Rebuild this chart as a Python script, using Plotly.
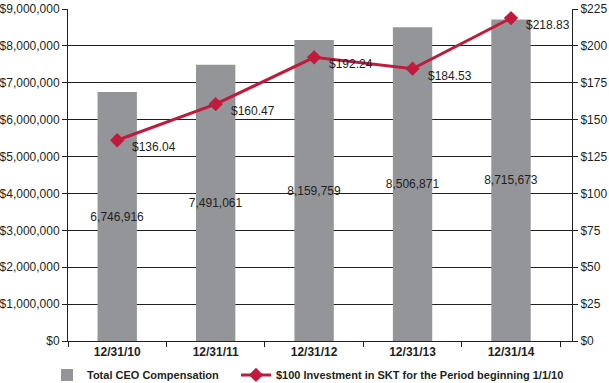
import plotly.graph_objects as go

categories = ["12/31/10", "12/31/11", "12/31/12", "12/31/13", "12/31/14"]
ceo_comp = [6746916, 7491061, 8159759, 8506871, 8715673]
skt_value = [136.04, 160.47, 192.24, 184.53, 218.83]
bar_name = "Total CEO Compensation"
line_name = "$100 Investment in SKT for the Period beginning 1/1/10"

FONT = "Liberation Sans, Arial, Helvetica, sans-serif"
GRAY = "#939598"
RED = "#c01a3c"
INK = "#231f20"

fig = go.Figure()
fig.add_trace(go.Bar(
    x=categories, y=ceo_comp, name=bar_name,
    marker=dict(color=GRAY, line=dict(width=0)),
    text=[f"{v:,}" for v in ceo_comp],
    textposition="inside", insidetextanchor="middle", textangle=0,
    textfont=dict(family=FONT, size=12, color=INK),
    constraintext="none", cliponaxis=False,
    hoverinfo="skip", legend="legend",
))
fig.add_trace(go.Scatter(
    x=categories, y=skt_value, name=line_name, yaxis="y2",
    mode="lines+markers",
    line=dict(color=RED, width=3),
    marker=dict(symbol="diamond", size=11, color=RED),
    cliponaxis=False, legend="legend2",
))
for c, v in zip(categories, skt_value):
    fig.add_annotation(x=c, y=v, yref="y2", text=f"${v:.2f}", showarrow=False,
                       xanchor="left", yanchor="middle", xshift=13, yshift=-7,
                       font=dict(family=FONT, size=12, color=INK))

legend_common = dict(orientation="h", xref="container", yref="container",
                     xanchor="left", yanchor="middle", y=0.021,
                     font=dict(family=FONT, size=11, color=INK, weight="bold"),
                     bgcolor="rgba(0,0,0,0)", borderwidth=0)

fig.update_layout(
    width=609, height=383,
    margin=dict(l=68, r=37, t=9, b=42, autoexpand=False),
    paper_bgcolor="white", plot_bgcolor="white",
    font=dict(family=FONT, size=12, color=INK),
    bargap=0.6,
    showlegend=True,
    legend=dict(x=47 / 609, **legend_common),
    legend2=dict(x=236 / 609, **legend_common),
    xaxis=dict(type="category", showline=True, linecolor=INK, linewidth=1,
               ticks="outside", tickson="boundaries", ticklen=5, tickcolor=INK,
               tickfont=dict(family=FONT, size=12, weight="bold"), showgrid=False,
               automargin=False),
    yaxis=dict(range=[0, 9000000], dtick=1000000, tickformat="$,.0f",
               showline=True, linecolor=INK, linewidth=1,
               ticks="outside", ticklen=5, tickcolor=INK,
               showgrid=True, gridcolor=INK, gridwidth=1,
               zeroline=False, tickfont=dict(family=FONT, size=12), automargin=False),
    yaxis2=dict(range=[0, 225], dtick=25, tickprefix="$", overlaying="y", side="right",
                showline=True, linecolor=INK, linewidth=1,
                ticks="outside", ticklen=5, tickcolor=INK,
                showgrid=False, zeroline=False, tickfont=dict(family=FONT, size=12),
                automargin=False),
)
fig.write_html("out.html", config={"displayModeBar": False},
               post_script="document.body.style.margin='0';document.body.style.overflow='hidden';")
